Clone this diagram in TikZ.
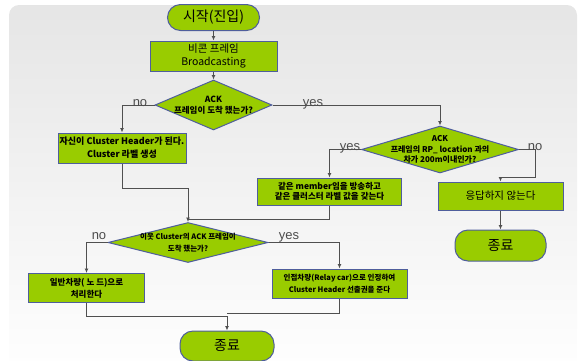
\documentclass[tikz,border=0pt]{standalone}
\usepackage{fontspec}
\setmainfont{Noto Sans CJK KR}
\newfontfamily\labfont{Liberation Sans}
\usetikzlibrary{shapes.geometric,arrows.meta}
\definecolor{boxgreen}{HTML}{99CC00}
\definecolor{boxedge}{HTML}{4F5E9C}
\definecolor{linegray}{HTML}{505050}

\begin{document}
\begin{tikzpicture}[x=1pt,y=-1pt,
  every node/.style={align=center,text=black},
  term/.style={draw=boxedge,fill=boxgreen,line width=1pt,rounded corners=13pt,
    minimum width=92pt,minimum height=26pt,font=\fontsize{14}{16}\selectfont},
  proc/.style={draw=boxedge,fill=boxgreen,line width=1pt,inner sep=1pt},
  decision/.style={diamond,draw=boxedge,fill=boxgreen,line width=1pt,inner sep=0pt},
  lab/.style={anchor=base,font=\labfont\fontsize{13}{13}\selectfont,text=black!70},
  conn/.style={draw=linegray,line width=.9pt},
  >={Latex[length=4.5pt,width=4pt]}]

  \useasboundingbox (0,0) rectangle (579,360);
  \clip (0,0) rectangle (579,360);

  %% background panel
  \shade[top color=black!10,bottom color=white,rounded corners=10pt] (9,5) rectangle (577,380);

  %% nodes
  \node[term] (st) at (213.5,17.5) {시작(진입)};
  \node[proc,minimum width=127pt,minimum height=30pt,font=\fontsize{10.5}{12.5}\selectfont] (b1) at (213.5,56) {비콘 프레임\\Broadcasting};
  \node[decision,minimum width=117pt,minimum height=50pt,
    label={[font=\bfseries\fontsize{8.5}{11}\selectfont]center:ACK\\프레임이 도착 했는가?}] (d1) at (213.5,105) {};
  \node[proc,minimum width=128pt,minimum height=30pt,font=\bfseries\fontsize{9}{13}\selectfont] (b2) at (122,148) {자신이 Cluster Header가 된다.\\Cluster 라벨 생성};
  \node[decision,minimum width=157pt,minimum height=47pt,
    label={[font=\bfseries\fontsize{8}{10.5}\selectfont]center:ACK\\프레임의 RP\_ location 과의\\차가 200m이내인가?}] (d2) at (440,149.5) {};
  \node[proc,minimum width=144pt,minimum height=27pt,font=\bfseries\fontsize{8.5}{10.5}\selectfont] (b3) at (329.5,191.5) {같은 member임을 방송하고\\같은 클러스터 라벨 값을 갖는다};
  \node[proc,minimum width=125pt,minimum height=28pt,font=\fontsize{10.5}{12}\selectfont] (b4) at (500.5,196) {응답하지 않는다};
  \node[term,minimum width=91pt,minimum height=31pt] (e2) at (500.5,245.5) {종료};
  \node[decision,minimum width=160pt,minimum height=40pt,
    label={[font=\bfseries\fontsize{7.5}{12}\selectfont]center:이웃 Cluster의 ACK 프레임이\\도착 했는가?}] (d3) at (188,242.5) {};
  \node[proc,minimum width=116pt,minimum height=29pt,font=\bfseries\fontsize{8.5}{12}\selectfont] (b5) at (86.5,288) {일반차량( 노 드)으로\\처리한다};
  \node[proc,minimum width=135pt,minimum height=29pt,font=\bfseries\fontsize{7.5}{12}\selectfont] (b6) at (339.5,283.5) {인접차량(Relay car)으로 인정하여\\Cluster Header 선출권을 준다};
  \node[term,minimum width=94pt,minimum height=30pt] (e1) at (227,346) {종료};

  %% connectors
  \draw[conn,->] (st) -- (b1);
  \draw[conn,->] (b1) -- (d1);
  \draw[conn,->] (d1.west) -| (b2.north);
  \draw[conn,->] (d1.east) -| (d2.north);
  \draw[conn,->] (d2.west) -| (b3.north);
  \coordinate (n2) at (535,177);
  \draw[conn,->] (d2.east) -| (n2) -| (b4.north);
  \draw[conn,->] (b4) -- (e2);
  \coordinate (m1) at (188,188);
  \coordinate (m2) at (188,219);
  \draw[conn,->] (b2.south) |- (m1) -- (d3.north);
  \draw[conn] (b3.south) |- (m2);
  \draw[conn,->] (d3.west) -| (b5.north);
  \draw[conn,->] (d3.east) -| (b6.north);
  \coordinate (m3) at (227,316);
  \coordinate (m4) at (227,313);
  \draw[conn,->] (b5.south) |- (m3) -- (e1.north);
  \draw[conn] (b6.south) |- (m4);

  %% yes / no
  \node[lab] (no1) at (140,106) {no};
  \node[lab] (yes1) at (313,106) {yes};
  \node[lab] (yes2) at (350,150) {yes};
  \node[lab] (no2) at (535,150) {no};
  \node[lab] (no3) at (99,239) {no};
  \node[lab] (yes3) at (289,239) {yes};
\end{tikzpicture}
\end{document}
